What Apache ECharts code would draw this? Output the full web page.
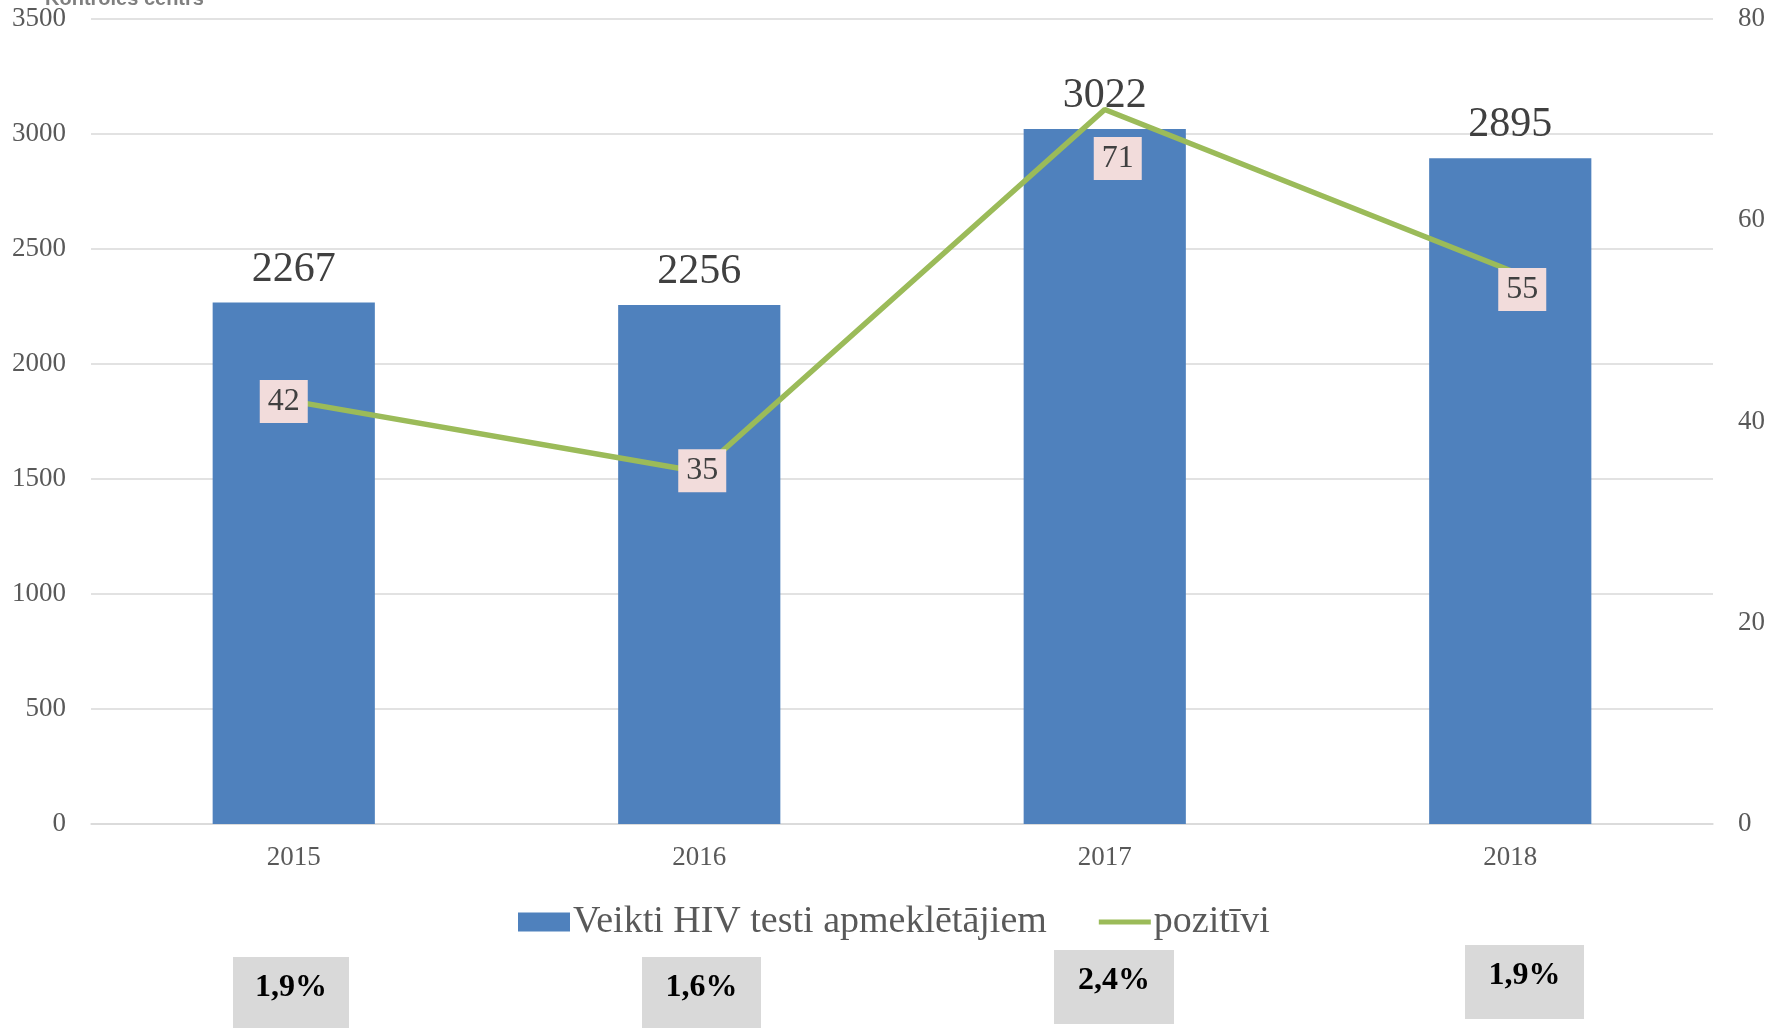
<!DOCTYPE html>
<html>
<head>
<meta charset="utf-8">
<title>HIV testi</title>
<script src="https://cdn.jsdelivr.net/npm/echarts@6/dist/echarts.min.js"></script>
<style>
  html, body { margin: 0; padding: 0; background: #fff; }
  #chart { width: 1781px; height: 1028px; }
</style>
</head>
<body>
<div id="chart"></div>
<script>
// dati
var years = ['2015', '2016', '2017', '2018'];
var testsDone = [2267, 2256, 3022, 2895];
var positives = [42, 35, 71, 55];
var rateLabels = ['1,9%', '1,6%', '2,4%', '1,9%'];
var leftTicks = [0, 3500, 500];
var rightTicks = [0, 80, 20];

// izkartojums (ne dati)
var lineLabelOffsets = [[-10, 0], [3, -1], [13, 49], [12, 19]];
var rateBoxes = [[233, 957, 116], [642, 957, 119], [1054, 950, 120], [1465, 945, 119]];

var serif = '"Liberation Serif", "Times New Roman", serif';
var myChart = echarts.init(document.getElementById('chart'));

var graphics = [{
    type: 'text',
    left: 45,
    top: -11,
    style: {
        text: 'Kontroles centrs',
        font: 'bold 20px "Liberation Sans", Arial, sans-serif',
        fill: '#7f7f7f'
    }
}];
rateBoxes.forEach(function (b, i) {
    graphics.push({
        type: 'group',
        left: b[0],
        top: b[1],
        children: [
            { type: 'rect', shape: { x: 0, y: 0, width: b[2], height: 74 }, style: { fill: '#d9d9d9' } },
            {
                type: 'text',
                x: b[2] / 2,
                y: 31,
                style: {
                    text: rateLabels[i],
                    font: 'bold 32px ' + serif,
                    fill: '#000',
                    align: 'center',
                    verticalAlign: 'middle'
                }
            }
        ]
    });
});

var option = {
    backgroundColor: '#ffffff',
    animation: false,
    grid: {
        left: 91,
        right: 68,
        top: 19,
        bottom: 204
    },
    legend: {
        data: [
            { name: 'Veikti HIV testi apmeklētājiem', icon: 'rect' },
            { name: 'pozitīvi', icon: 'path://M0,0 L52,0 L52,5 L0,5 Z' }
        ],
        left: 513,
        top: 898,
        itemWidth: 52,
        itemHeight: 19,
        itemGap: 52,
        textStyle: {
            fontFamily: serif,
            fontSize: 38,
            color: '#595959',
            padding: [0, 0, 0, -2]
        }
    },
    xAxis: {
        type: 'category',
        data: years,
        axisTick: { show: false },
        axisLine: { lineStyle: { color: '#d9d9d9', width: 1.5 } },
        axisLabel: {
            fontFamily: serif,
            fontSize: 27,
            color: '#595959',
            margin: 20
        }
    },
    yAxis: [
        {
            type: 'value',
            min: leftTicks[0],
            max: leftTicks[1],
            interval: leftTicks[2],
            axisLine: { show: false },
            axisTick: { show: false },
            splitLine: { lineStyle: { color: '#d9d9d9', width: 1.5 } },
            axisLabel: {
                fontFamily: serif,
                fontSize: 27,
                color: '#595959',
                margin: 25,
                formatter: function (v) { return String(v); }
            }
        },
        {
            type: 'value',
            min: rightTicks[0],
            max: rightTicks[1],
            interval: rightTicks[2],
            axisLine: { show: false },
            axisTick: { show: false },
            splitLine: { show: false },
            axisLabel: {
                fontFamily: serif,
                fontSize: 27,
                color: '#595959',
                margin: 25
            }
        }
    ],
    series: [
        {
            name: 'Veikti HIV testi apmeklētājiem',
            type: 'bar',
            data: testsDone,
            barWidth: '40%',
            itemStyle: { color: '#4f81bd' },
            label: {
                show: true,
                position: 'top',
                distance: 12,
                fontFamily: serif,
                fontSize: 42,
                color: '#404040'
            }
        },
        {
            name: 'pozitīvi',
            type: 'line',
            yAxisIndex: 1,
            symbol: 'circle',
            symbolSize: 1,
            showSymbol: true,
            data: positives.map(function (v, i) {
                return { value: v, label: { offset: lineLabelOffsets[i] } };
            }),
            lineStyle: { color: '#9bbb59', width: 5.5 },
            itemStyle: { color: '#9bbb59' },
            label: {
                show: true,
                position: 'inside',
                fontFamily: serif,
                fontSize: 32,
                color: '#404040',
                backgroundColor: '#f2dcdb',
                padding: [6, 8, 5, 8]
            },
            z: 5
        }
    ],
    graphic: graphics
};

myChart.setOption(option);
</script>
</body>
</html>
